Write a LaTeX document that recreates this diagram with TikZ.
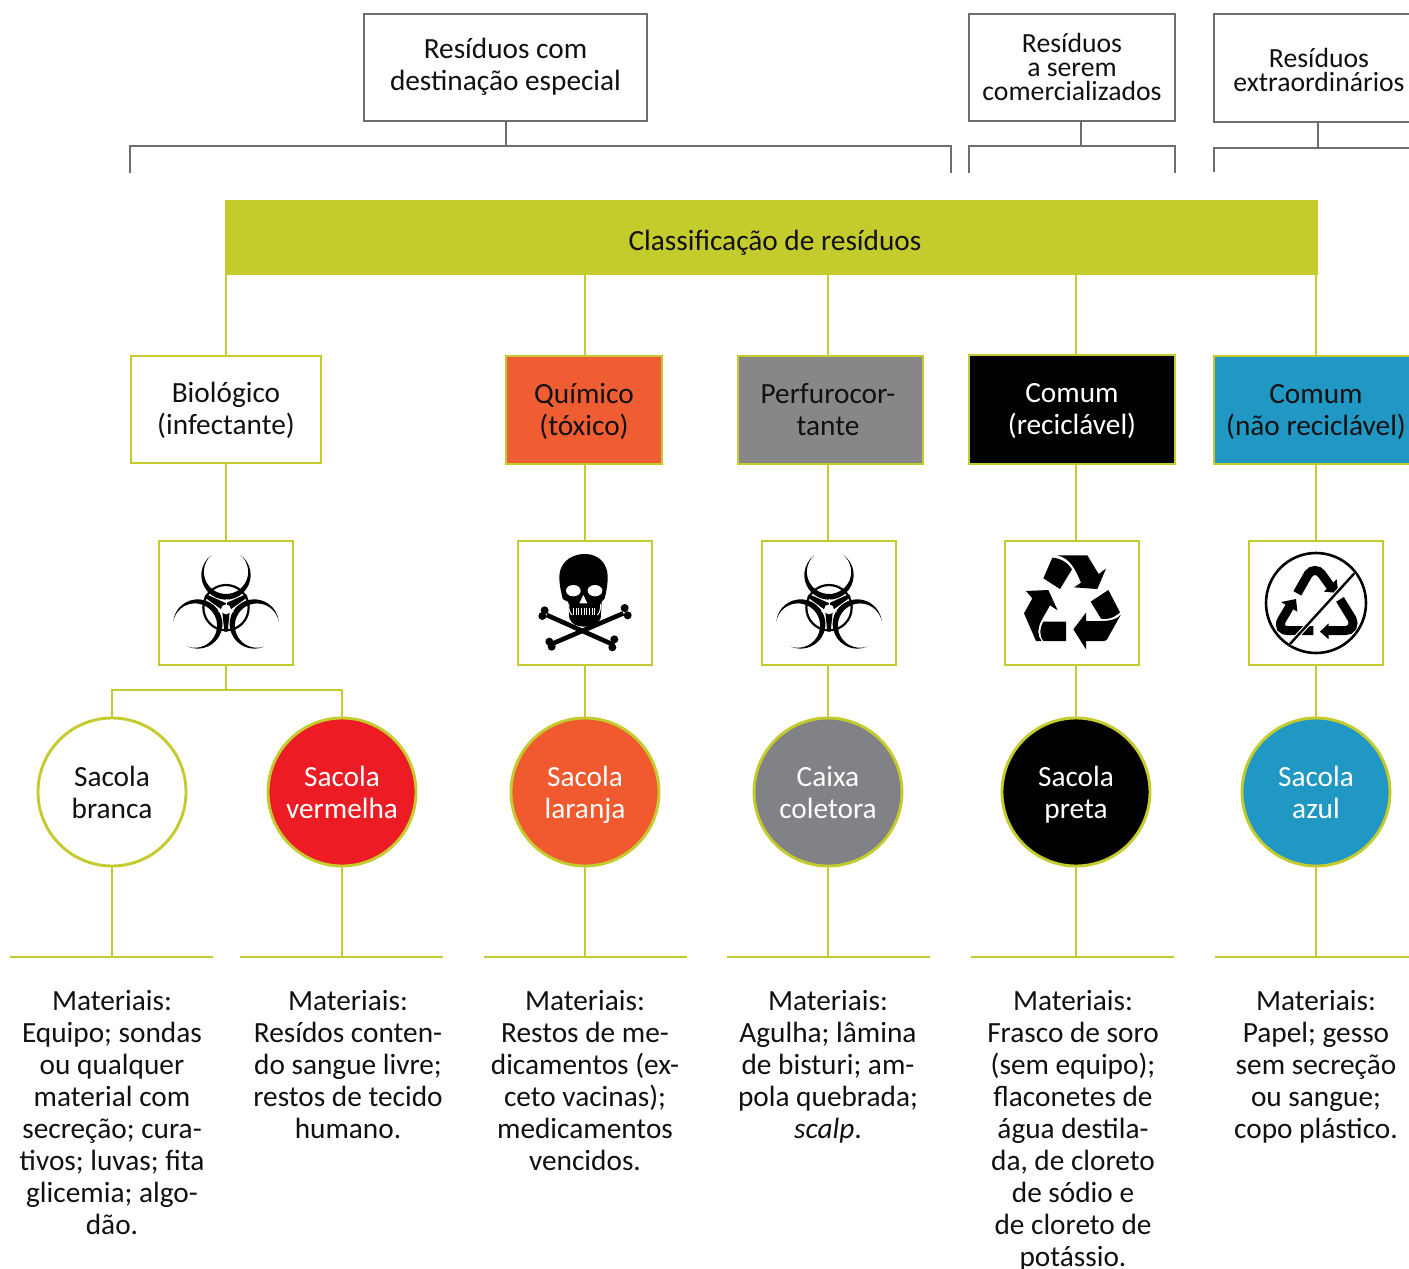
\documentclass[tikz,border=0pt]{standalone}
\usepackage{fontspec}
\setmainfont{Carlito}
\definecolor{lime}{HTML}{C4CB2D}
\definecolor{greybox}{HTML}{6D6E71}
\definecolor{txt}{HTML}{111111}
\newcommand{\capsz}{\fontsize{29.3}{32}\selectfont}
\newcommand{\tightsz}{\fontsize{27.7}{24}\selectfont}
\tikzset{
  base/.style={font=\capsz,text=txt,align=center,inner sep=0pt},
  tq/.style 2 args={text height=#1pt,text depth=#2pt},
  topbox/.style={base,draw=greybox,line width=2.9pt,fill=white},
  catbox/.style={base,tq={50}{0},draw=lime,line width=2.9pt},
  iconbox/.style={draw=lime,line width=2.9pt,fill=white,minimum width=134pt,minimum height=124pt,inner sep=0pt},
  bag/.style={base,tq={53}{0},circle,draw=lime,line width=2.9pt,minimum size=148pt},
  mat/.style={base,anchor=north},
  gline/.style={draw=lime,line width=2.9pt},
  tline/.style={draw=greybox,line width=2.9pt},
  biohaz/.pic={
    \begin{scope}[x=.3333pt,y=.3333pt,shift={(0,-14)}]
      \draw[black,line width=2.2pt] (0,0) circle[radius=68];
      \foreach \a in {0,120,240}{
        \fill[black,rotate=\a] (0,98)++(54.2:74) arc[start angle=54.2,end angle=-234.2,radius=74]
          arc[start angle=130.6,end angle=409.4,radius=66.52] -- cycle;
        \fill[black,rotate=\a] (-12,-4) -- (12,-4) -- (5,-72) -- (-5,-72) -- cycle;
      }
      \foreach \a in {0,120,240}{
        \draw[white,line width=1pt,rotate=\a] (0,0) -- (0,26);
      }
      \fill[white] (0,-5) circle[radius=15];
    \end{scope}
  },
  skull/.pic={
    \begin{scope}[x=.3333pt,y=-.3333pt,shift={(-225,-219)}]
      \foreach \p/\q/\r/\s in {110/255/312/345, 340/250/125/342}{
        \draw[black,line width=4.6pt] (\p,\q) -- (\r,\s);
      }
      \fill[black] (104,241) circle[radius=12] (97,258) circle[radius=12]
        (344,234) circle[radius=12] (353,256) circle[radius=12]
        (118,335) circle[radius=12] (125,350) circle[radius=12]
        (313,328) circle[radius=12] (307,352) circle[radius=12];
      \fill[black] (225,72) .. controls (175,72) and (148,105) .. (148,140)
        .. controls (148,170) and (155,190) .. (158,207)
        -- (175,216) -- (178,265) .. controls (185,285) and (205,290) .. (225,290)
        .. controls (245,290) and (265,285) .. (272,265) -- (275,216) -- (284,205)
        .. controls (290,180) and (293,165) .. (293,140)
        .. controls (293,105) and (270,72) .. (225,72) -- cycle;
      \fill[white] (190,182) ellipse[x radius=22,y radius=17] (255,182) ellipse[x radius=22,y radius=17];
      \fill[white] (220,195) -- (232,220) -- (208,220) -- cycle;
      \foreach \x in {190,198,...,255}{
        \draw[white,line width=.8pt] (\x,234) -- (\x,256);
      }
      \draw[white,line width=1pt] (176,222) .. controls (176,240) and (180,250) .. (186,255);
      \draw[white,line width=1pt] (272,222) .. controls (272,240) and (268,250) .. (262,255);
    \end{scope}
  },
  recycle/.pic={
    \begin{scope}[x=.3333pt,y=-.3333pt,shift={(-216,-219)}]
      \fill[black] (157,83) .. controls (185,85) and (205,100) .. (216,118) -- (180,177) -- (130,145) -- cycle;
      \fill[black] (172,76) -- (262,76) -- (296,132) -- (318,116) -- (292,177) -- (222,172) -- (243,158)
        .. controls (225,115) and (210,85) .. (172,76) -- cycle;
      \fill[black] (78,183) -- (145,180) -- (173,241) -- (150,226) -- (124,272)
        .. controls (112,295) and (112,320) .. (125,333) -- (108,333) -- (72,250) -- (97,205) -- cycle;
      \fill[black] (130,275) -- (198,275) -- (198,333) -- (130,333) .. controls (118,320) and (118,295) .. (130,275) -- cycle;
      \fill[black] (272,215) -- (325,180) -- (360,247) .. controls (340,265) and (320,270) .. (303,266) -- cycle;
      \fill[black] (362,255) -- (320,330) -- (312,333) -- (258,333) -- (258,358) -- (220,298) -- (258,248) -- (258,273) -- (305,273)
        .. controls (330,273) and (350,268) .. (362,255) -- cycle;
    \end{scope}
  },
  norecycle/.pic={
    \begin{scope}[x=.3333pt,y=-.3333pt,shift={(-228,-219)}]
      \draw[black,line width=2.6pt] (228,219) circle[radius=150];
      \draw[black,line width=9pt] (172,190) -- (205,132) .. controls (215,118) and (235,118) .. (245,132) -- (278,178);
      \fill[black] (252,185) -- (295,189) -- (290,148) -- cycle;
      \draw[black,line width=9pt] (150,228) -- (125,270) .. controls (115,290) and (125,302) .. (145,302) -- (220,302);
      \fill[black] (123,216) -- (168,207) -- (172,245) -- cycle;
      \draw[black,line width=9pt] (300,208) -- (335,265) .. controls (345,285) and (335,302) .. (315,302) -- (262,302);
      \fill[black] (240,305) -- (266,280) -- (266,328) -- cycle;
      \draw[white,line width=4.6pt] (150,342) -- (343,130);
      \draw[black,line width=2.4pt] (150,342) -- (343,130);
    \end{scope}
  }
}
\begin{document}
\begin{tikzpicture}[x=1pt,y=-1pt]
\useasboundingbox (0,0) rectangle (1409,1269);
\clip (0,0) rectangle (1409,1269);
\fill[white] (0,0) rectangle (1409,1269);

% top boxes
\node[topbox,tq={46}{0},minimum width=283pt,minimum height=107pt] (t1) at (505.5,67.5) {Resíduos com\\destinação especial};
\node[topbox,tq={65}{0},minimum width=206pt,minimum height=107pt,font=\tightsz] (t2) at (1072,67.5) {Resíduos\\a serem\\comercializados};
\node[topbox,tq={46}{0},minimum width=210pt,minimum height=108pt,font=\tightsz] (t3) at (1319,68) {Resíduos\\extraordinários};
\coordinate (b1l) at (130,173); \coordinate (b1r) at (951,173); \coordinate (b1s) at (506,146);
\coordinate (b2l) at (969,173); \coordinate (b2r) at (1175,173); \coordinate (b2s) at (1081,146);
\coordinate (b3l) at (1214,172); \coordinate (b3r) at (1420,148); \coordinate (b3s) at (1318,148);
\draw[tline] (b1s |- t1.south) -- (b1s);
\draw[tline] (b1l) -- (b1l |- b1s) -- (b1r |- b1s) -- (b1r);
\draw[tline] (b2s |- t2.south) -- (b2s);
\draw[tline] (b2l) -- (b2l |- b2s) -- (b2r |- b2s) -- (b2r);
\draw[tline] (b3s |- t3.south) -- (b3s);
\draw[tline] (b3l) -- (b3l |- b3s) -- (b3r);

% bar
\node[base,fill=lime,minimum width=1093pt,minimum height=75pt] (bar) at (771.5,237.5) {\hspace*{7pt}\raisebox{-12.5pt}[0pt][0pt]{Classificação de resíduos}};

% categories
\node[catbox,fill=white,minimum width=190pt,minimum height=107pt] (c1) at (226,409.5) {Biológico\\(infectante)};
\node[catbox,fill={rgb,255:red,241;green,93;blue,51},minimum width=156pt,minimum height=108pt] (c2) at (584,410) {Químico\\(tóxico)};
\node[catbox,fill={rgb,255:red,135;green,134;blue,137},minimum width=185pt,minimum height=108pt] (c3) at (830.5,410) {\hspace*{-5pt}Perfurocor-\\\hspace*{-5pt}tante};
\node[catbox,fill=black,text=white,minimum width=206pt,minimum height=109pt] (c4) at (1072,409.5) {Comum\\(reciclável)};
\node[catbox,fill={rgb,255:red,33;green,151;blue,195},minimum width=204pt,minimum height=108pt] (c5) at (1316,410) {Comum\\(não reciclável)};

% icons
\node[iconbox] (i1) at (226,603) {};
\node[iconbox] (i2) at (585,603) {};
\node[iconbox] (i3) at (829,603) {};
\node[iconbox] (i4) at (1072,603) {};
\node[iconbox] (i5) at (1316,603) {};
\pic at (i1.center) {biohaz};
\pic at (i2.center) {skull};
\pic at (i3.center) {biohaz};
\pic at (i4.center) {recycle};
\pic at (i5.center) {norecycle};

% bags
\node[bag,fill=white] (s1) at (112,792) {Sacola\\branca};
\node[bag,fill={rgb,255:red,237;green,28;blue,36},text=white] (s2) at (342,792) {Sacola\\vermelha};
\node[bag,fill={rgb,255:red,241;green,90;blue,47},text=white] (s3) at (585,792) {Sacola\\laranja};
\node[bag,fill={rgb,255:red,128;green,130;blue,133},text=white] (s4) at (828,792) {Caixa\\coletora};
\node[bag,fill=black,text=white] (s5) at (1076,792) {Sacola\\preta};
\node[bag,fill={rgb,255:red,33;green,151;blue,195},text=white] (s6) at (1316,792) {Sacola\\azul};

% vertical links
\coordinate (x3) at (585,300); \coordinate (x4) at (828,300); \coordinate (x5) at (1076,300); \coordinate (x6) at (1316,300);
\draw[gline] (c1.north |- bar.south) -- (c1.north);
\draw[gline] (x3 |- bar.south) -- (x3 |- c2.north);
\draw[gline] (x4 |- bar.south) -- (x4 |- c3.north);
\draw[gline] (x5 |- bar.south) -- (x5 |- c4.north);
\draw[gline] (x6 |- bar.south) -- (x6 |- c5.north);
\draw[gline] (c1.south) -- (i1.north);
\draw[gline] (x3 |- c2.south) -- (x3 |- i2.north);
\draw[gline] (x4 |- c3.south) -- (x4 |- i3.north);
\draw[gline] (x5 |- c4.south) -- (x5 |- i4.north);
\draw[gline] (x6 |- c5.south) -- (x6 |- i5.north);
\coordinate (fork) at (226,690);
\draw[gline] (i1.south) -- (fork);
\draw[gline] (s1.north) -- (s1.north |- fork) -- (s2.north |- fork) -- (s2.north);
\draw[gline] (x3 |- i2.south) -- (s3.north);
\draw[gline] (x4 |- i3.south) -- (s4.north);
\draw[gline] (x5 |- i4.south) -- (s5.north);
\draw[gline] (x6 |- i5.south) -- (s6.north);

% material rules
\coordinate (r1a) at (10,957); \coordinate (r1b) at (213,957);
\coordinate (r2a) at (240,957); \coordinate (r2b) at (443,957);
\coordinate (r3a) at (484,957); \coordinate (r3b) at (687,957);
\coordinate (r4a) at (727,957); \coordinate (r4b) at (930,957);
\coordinate (r5a) at (971,957); \coordinate (r5b) at (1174,957);
\coordinate (r6a) at (1215,957); \coordinate (r6b) at (1418,957);
\draw[gline] (r1a) -- (r1b); \draw[gline] (r2a) -- (r2b); \draw[gline] (r3a) -- (r3b);
\draw[gline] (r4a) -- (r4b); \draw[gline] (r5a) -- (r5b); \draw[gline] (r6a) -- (r6b);
\draw[gline] (s1.south) -- (s1.south |- r1a);
\draw[gline] (s2.south) -- (s2.south |- r2a);
\draw[gline] (s3.south) -- (s3.south |- r3a);
\draw[gline] (s4.south) -- (s4.south |- r4a);
\draw[gline] (s5.south) -- (s5.south |- r5a);
\draw[gline] (s6.south) -- (s6.south |- r6a);

% materials
\node[mat] (m1) at (112,990.5) {Materiais:\\Equipo; sondas\\ou qualquer\\material com\\secreção; cura-\\tivos; luvas; fita\\glicemia; algo-\\dão.};
\node[mat] (m2) at (348,990.5) {Materiais:\\Resídos conten-\\do sangue livre;\\restos de tecido\\humano.};
\node[mat] (m3) at (585,990.5) {Materiais:\\Restos de me-\\dicamentos (ex-\\ceto vacinas);\\medicamentos\\vencidos.};
\node[mat] (m4) at (828,990.5) {Materiais:\\Agulha; lâmina\\de bisturi; am-\\pola quebrada;\\\textit{scalp}.};
\node[mat] (m5) at (1073,990.5) {Materiais:\\Frasco de soro\\(sem equipo);\\flaconetes de\\água destila-\\da, de cloreto\\de sódio e\\de cloreto de\\potássio.};
\node[mat] (m6) at (1316,990.5) {Materiais:\\Papel; gesso\\sem secreção\\ou sangue;\\copo plástico.};
\end{tikzpicture}
\end{document}
